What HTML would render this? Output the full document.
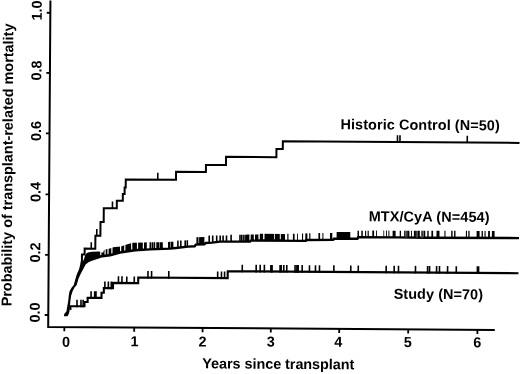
<!DOCTYPE html>
<html><head><meta charset="utf-8"><style>html,body{margin:0;padding:0;background:#fff;width:520px;height:374px;overflow:hidden}svg{display:block;filter:grayscale(1)}text{font-family:"Liberation Sans",sans-serif}</style></head>
<body><svg width="520" height="374" viewBox="0 0 520 374">
<rect width="520" height="374" fill="#fff"/>
<g transform="rotate(0.39 48.2 326.9)">
<path d="M48.2 0.5V326.9H494.81" stroke="#000" stroke-width="2" fill="none"/>
<path d="M44.6 12.79H48.2M44.6 72.99H48.2M44.6 133.3H48.2M44.6 194.4H48.2M44.6 254.8H48.2M44.6 315H48.2M64.35 326.9V331.1M134.2 326.9V331.1M202.6 326.9V331.1M270.81 326.9V331.1M339.21 326.9V331.1M408.21 326.9V331.1M477.41 326.9V331.1" stroke="#000" stroke-width="1.8" fill="none"/>
<path d="M81.46 262.27V254.37H84.11V248.35H94.77V235.48H99.78V221.65H102.98V207.82H115.99V200.24H121.94V193.5H123.69V186.98H124.75V178.98H174.99V170.93H204.84V163.83H224.89V155.59H275.24V147.35H281.58V139.71H518.23" stroke="#000" stroke-width="2" fill="none" stroke-linejoin="miter"/>
<path d="M90.72 241.91V248.31M96.13 228.67V235.67M111.64 201.07V207.77M156.75 172.06V178.76M396.19 132.83V139.63M398.69 132.81V139.61M465.99 132.95V139.65" stroke="#000" stroke-width="1.6" fill="none"/>
<path d="M63.93 316.09 L64.11 313.89 L66.29 311.38 L67.16 306.07 L68.02 300.76 L68.59 295.46 L69.26 291.06 L71.43 287.44 L73.51 284.83 L75.07 278.82 L76.44 274.01 L78.61 269.19 L79.78 264.38 L80.25 261.28 L82.45 261.27 L83.73 258.26 L84.71 254.95 L86.3 252.74 L88.49 251.92 L91.49 251.5 L98.99 251.25 L99.99 251.65 L100.03 257.75 L94.54 259.38 L90.25 261.01 L88.06 261.93 L85.18 264.35 L82.61 269.16 L80.14 273.98 L78.07 278.8 L76.41 284.81 L74.23 287.42 L72.36 291.03 L70.99 295.44 L70.22 300.75 L69.76 306.05 L69.39 311.36 L68.52 314.36 L67.43 316.07Z" fill="#000"/>
<path d="M95.53 256.98 L99.52 256.25 L109.51 254.88 L119.49 252.11 L134.48 249.81 L149.47 248.71 L169.46 247.77 L175.46 247.13 L187.45 245.65 L194.45 245.2 L195.04 243.6 L203.93 243.14 L204.93 241.93 L211.42 241.49 L219.42 240.43 L249.61 240.23 L250.01 239.22 L305.21 239.15 L305.6 238.25 L332.8 237.86 L333.19 236.86 L356.99 236.6 L357.38 235.19 L396.38 235.03 L424.38 235.14 L518.38 234.9" stroke="#000" stroke-width="2.4" fill="none" stroke-linejoin="round"/>
<path d="M98.99 252.25 L99.49 252.25 L102.69 252.23 L103.48 249.62 L105.47 248.91 L110.46 247.87 L112.46 246.76 L120.45 246.01 L124.44 244.58 L130.43 242.64 L132.42 242.12 L144.42 241.84 L146.22 241.65 L146.27 248.94 L134.48 249.81 L119.49 252.11 L109.51 254.88 L99.52 256.25 L99.02 256.34ZM195.79 236.19 L203.79 236.04 L203.83 243.14 L195.84 243.56ZM254.37 233.12 L257.37 233.07 L259.36 232.36 L284.36 232.29 L284.41 239.18 L254.41 239.22ZM335.95 230.2 L336.35 230.14 L349.65 229.95 L349.69 236.68 L335.99 236.83ZM148.92 241.61 L149.42 241.61 L150.52 241.6 L150.57 248.66 L149.47 248.71 L148.97 248.75ZM151.02 241.6 L152.62 241.59 L152.67 248.56 L151.07 248.63ZM153.02 241.58 L154.62 241.57 L154.67 248.47 L153.07 248.54ZM155.72 241.57 L157.32 241.56 L157.37 248.34 L155.77 248.41ZM157.12 241.56 L158.72 241.55 L158.77 248.27 L157.17 248.35ZM159.22 241.54 L160.82 241.53 L160.87 248.18 L159.27 248.25ZM160.62 241.53 L162.22 241.52 L162.27 248.11 L160.67 248.18ZM167.42 241.09 L169.02 241.02 L169.06 247.79 L167.46 247.87ZM168.32 241.05 L169.92 240.99 L169.96 247.72 L169.46 247.77 L168.36 247.82ZM170.42 240.97 L172.02 240.9 L172.06 247.5 L170.46 247.67ZM171.22 240.93 L172.82 240.87 L172.86 247.41 L171.26 247.58ZM176.51 239.89 L177.41 239.62 L178.11 239.6 L178.16 246.8 L176.56 247ZM179.41 239.56 L181.01 239.52 L181.06 246.44 L179.46 246.64ZM183.81 239.45 L185.41 239.4 L185.45 245.9 L183.85 246.09ZM185.91 239.39 L187.41 239.35 L187.51 239.31 L187.55 245.64 L187.45 245.65 L185.95 245.84ZM207.78 234.71 L208.37 234.51 L209.37 234.49 L209.42 241.62 L207.82 241.73ZM211.27 234.46 L212.87 234.43 L212.92 241.29 L211.42 241.49 L211.32 241.49ZM215.27 234.38 L216.87 234.36 L216.92 240.76 L215.32 240.97ZM218.77 234.32 L220.37 234.29 L220.42 240.43 L219.42 240.43 L218.82 240.51ZM221.67 234.27 L223.27 234.24 L223.32 240.41 L221.72 240.42ZM225.07 234.21 L226.37 234.19 L226.67 234 L226.72 240.38 L225.12 240.39ZM229.67 233.54 L231.27 233.51 L231.32 240.35 L229.72 240.36ZM238.57 233.39 L240.17 233.36 L240.21 240.29 L238.61 240.3ZM240.37 233.36 L241.97 233.33 L242.01 240.28 L240.41 240.29ZM242.47 233.32 L244.07 233.3 L244.11 240.26 L242.51 240.28ZM244.47 233.29 L246.07 233.26 L246.11 240.25 L244.51 240.26ZM245.97 233.27 L247.57 233.24 L247.61 240.24 L246.01 240.25ZM247.17 233.25 L248.77 233.22 L248.81 240.23 L247.21 240.24ZM250.07 233.2 L251.67 233.17 L251.71 239.22 L250.11 239.22ZM251.57 233.17 L253.17 233.14 L253.21 239.22 L251.61 239.22ZM282.66 232.3 L283.66 232.29 L283.71 239.18 L282.71 239.18ZM286.66 232.23 L287.86 232.2 L287.91 239.17 L286.71 239.17ZM292.26 232.08 L293.96 232.03 L294.01 239.16 L292.31 239.17ZM296.36 231.97 L297.26 231.94 L297.31 239.16 L296.41 239.16ZM301.36 231.8 L302.46 231.75 L302.51 239.15 L301.41 239.15ZM304.66 231.65 L306.76 231.55 L306.8 238.23 L305.6 238.25 L305.21 239.15 L304.71 239.15ZM308.56 231.47 L309.76 231.42 L309.8 238.19 L308.6 238.2ZM317.75 231.21 L319.45 231.18 L319.5 238.05 L317.8 238.07ZM321.75 231.14 L322.75 231.12 L322.8 238 L321.8 238.02ZM329.35 231.01 L331.35 230.97 L331.65 230.92 L331.7 237.88 L329.4 237.91ZM356.84 228.69 L358.34 228.66 L358.38 235.19 L357.38 235.19 L356.99 236.6 L356.89 236.6ZM360.64 228.61 L362.14 228.59 L362.18 235.17 L360.68 235.18ZM364.44 228.54 L365.54 228.52 L365.58 235.16 L364.48 235.16ZM366.94 228.49 L368.14 228.47 L368.18 235.15 L366.98 235.15ZM371.64 228.4 L373.44 228.36 L373.48 235.13 L371.68 235.13ZM375.34 228.32 L376.24 228.31 L376.28 235.11 L375.38 235.12ZM382.74 228.27 L383.54 228.28 L383.58 235.08 L382.78 235.09ZM385.34 228.29 L386.24 228.3 L386.28 235.07 L385.38 235.07ZM387.74 228.31 L388.74 228.32 L388.78 235.06 L387.78 235.06ZM391.94 228.35 L394.94 228.37 L394.98 235.03 L391.98 235.05ZM399.04 228.41 L399.34 228.41 L400.34 228.4 L400.38 235.04 L399.08 235.04ZM403.54 228.38 L404.64 228.38 L404.68 235.06 L403.58 235.06ZM406.54 228.37 L408.74 228.35 L408.78 235.08 L406.58 235.07ZM410.34 228.34 L411.24 228.34 L411.28 235.09 L410.38 235.08ZM413.24 228.33 L415.24 228.32 L415.28 235.1 L413.28 235.09ZM417.24 228.3 L419.14 228.29 L419.18 235.12 L417.28 235.11ZM422.94 228.27 L424.64 228.26 L424.68 235.14 L424.38 235.14 L422.98 235.13ZM426.64 228.25 L428.04 228.24 L428.08 235.13 L426.68 235.13ZM430.74 228.23 L432.44 228.22 L432.48 235.12 L430.78 235.12ZM435.84 228.2 L438.84 228.18 L438.88 235.1 L435.88 235.11ZM443.74 228.15 L444.84 228.15 L444.88 235.08 L443.78 235.09ZM450.54 228.11 L451.94 228.1 L451.98 235.07 L450.58 235.07ZM453.44 228.1 L454.84 228.09 L454.88 235.06 L453.48 235.06ZM465.24 228.03 L466.34 228.02 L466.38 235.03 L465.28 235.03ZM467.64 228.01 L468.94 228.01 L468.98 235.02 L467.68 235.03ZM475.94 227.97 L478.94 227.95 L478.98 235 L475.98 235.01ZM480.94 227.94 L482.24 227.93 L482.28 234.99 L480.98 234.99ZM483.84 227.92 L484.94 227.92 L484.98 234.98 L483.88 234.99ZM487.44 227.9 L489.24 227.89 L489.28 234.97 L487.48 234.98ZM491.24 227.88 L493.94 227.86 L493.98 234.96 L491.28 234.97Z" fill="#000"/>
<path d="M404.64 228.38 L406.54 228.37 L406.58 235.07 L404.68 235.06ZM415.24 228.32 L417.24 228.3 L417.28 235.11 L415.28 235.1ZM420.44 228.29 L422.94 228.27 L422.98 235.13 L420.48 235.12Z" fill="#444"/>
<path d="M99.69 251.25 L100.89 251.24 L100.91 254.66 L99.71 254.82ZM103.97 248.44 L105.16 248.02 L105.21 254.07 L104.01 254.23ZM106.86 247.62 L108.06 247.37 L108.1 253.67 L106.9 253.84ZM110.76 246.71 L111.95 246.04 L112 252.79 L110.8 253.12ZM119.44 245.1 L120.64 244.93 L120.68 250.53 L119.48 250.71ZM123.64 243.86 L124.83 243.45 L124.88 249.88 L123.68 250.07ZM130.52 241.61 L131.72 241.3 L131.77 248.83 L130.57 249.01ZM136.32 241.03 L137.52 241.01 L137.57 248.18 L136.37 248.27ZM142.22 240.89 L143.42 240.87 L143.46 247.75 L142.26 247.84ZM197.88 235.15 L198.48 235.14 L198.53 242.02 L197.93 242.05ZM257.76 231.93 L259.16 231.43 L259.2 237.81 L257.8 237.81ZM262.45 231.35 L263.85 231.35 L263.9 237.81 L262.5 237.81ZM273.35 231.32 L274.15 231.32 L274.2 237.79 L273.4 237.79ZM279.15 231.3 L280.15 231.3 L280.2 237.78 L279.2 237.78Z" fill="#fff"/>
<path d="M69.48 308.85H70.28V306.05H84.36V301.75H87.43V297.53H101.3V292.44H103.57V287.72H112.73V282.46H137.9V276.89H227.36V269.98H518.11" stroke="#000" stroke-width="2.1" fill="none"/>
<path d="M76.81 299.45V307.05M80.81 299.45V307.05M83.01 299.45V307.05M90.86 290.93V298.53M94.46 290.93V298.53M95.76 290.93V298.53M104.59 281.12V288.72M108.09 281.12V288.72M110.99 281.12V288.72M118.15 275.86V283.46M121.65 275.86V283.46M126.45 275.86V283.46M133.95 275.86V283.46M147.62 270.29V277.89M151.22 270.29V277.89M168.42 270.29V277.89M217.32 270.29V277.89M221.12 270.29V277.89M224.22 270.29V277.89M241.87 263.38V270.98M255.77 263.38V270.98M259.77 263.38V270.98M263.97 263.38V270.98M270.47 263.38V270.98M271.67 263.38V270.98M279.67 263.38V270.98M280.77 263.38V270.98M283.37 263.38V270.98M286.37 263.38V270.98M294.67 263.38V270.98M296.47 263.38V270.98M297.77 263.38V270.98M301.77 263.38V270.98M309.07 263.38V270.98M315.07 263.38V270.98M319.07 263.38V270.98M333.47 263.38V270.98M350.37 263.38V270.98M357.87 263.38V270.98M385.78 263.38V270.98M393.78 263.38V270.98M398.08 263.38V270.98M415.08 263.38V270.98M427.18 263.38V270.98M429.18 263.38V270.98M436.18 263.38V270.98M439.08 263.38V270.98M447.18 263.38V270.98M455.88 263.38V270.98M476.98 263.38V270.98M478.18 263.38V270.98" stroke="#000" stroke-width="1.6" fill="none"/>
<g font-family="Liberation Sans" font-weight="bold" font-size="14.4" fill="#000"><text x="339.18" y="127.21" text-anchor="start" letter-spacing="0.094">Historic Control (N=50)</text><text x="368.01" y="219.02" text-anchor="start" letter-spacing="0.125">MTX/CyA (N=454)</text><text x="393.49" y="296.35" text-anchor="start" letter-spacing="0.083">Study (N=70)</text><text x="202.63" y="367.25" text-anchor="start" letter-spacing="-0.040">Years since transplant</text><text transform="translate(11.36 306.61) rotate(-90)" text-anchor="start" letter-spacing="0.012">Probability of transplant-related mortality</text><text x="66.19" y="346.68" text-anchor="middle">0</text><text x="134.63" y="345.81" text-anchor="middle">1</text><text x="202.53" y="345.55" text-anchor="middle">2</text><text x="270.93" y="345.08" text-anchor="middle">3</text><text x="338.43" y="344.82" text-anchor="middle">4</text><text x="407.93" y="344.65" text-anchor="middle">5</text><text x="477.33" y="344.48" text-anchor="middle">6</text><text transform="translate(39.68 10.45) rotate(-90)" text-anchor="middle">1.0</text><text transform="translate(39.68 70.65) rotate(-90)" text-anchor="middle">0.8</text><text transform="translate(39.68 130.95) rotate(-90)" text-anchor="middle">0.6</text><text transform="translate(39.68 192.05) rotate(-90)" text-anchor="middle">0.4</text><text transform="translate(39.68 252.46) rotate(-90)" text-anchor="middle">0.2</text><text transform="translate(39.68 312.66) rotate(-90)" text-anchor="middle">0.0</text></g>
</g>
</svg></body></html>
